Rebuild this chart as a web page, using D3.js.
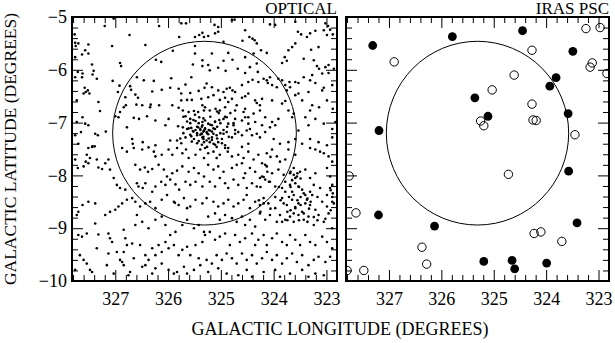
<!DOCTYPE html>
<html>
<head>
<meta charset="utf-8">
<script src="https://cdn.jsdelivr.net/npm/d3@7"></script>
<style>
  body { margin: 0; background: #fff; }
  text { font-family: "Liberation Serif", "DejaVu Serif", serif; fill: #000; }
</style>
</head>
<body>
<svg id="chart" width="615" height="343"></svg>
<script>
// axis ranges (degrees)
const lonDomain = [327.82, 322.8];
const latDomain = [-10, -5];
const lonMajor = [327, 326, 325, 324, 323];
const latMajor = [-10, -9, -8, -7, -6, -5];

// search circle
const circleLon = 325.31, circleLat = -7.2, circleRadius = 1.74;

// optical sources [lon, lat]
const opticalUpperLeft = [
[327.20,-5.17],[327.03,-5.03],[326.17,-5.17],[325.75,-5.12],[325.66,-5.12],[327.77,-5.33],[326.73,-5.34],[325.79,-5.38],[325.49,-5.38],[325.41,-5.34],
[325.35,-5.30],[325.32,-5.38],[327.76,-5.49],[327.75,-5.55],[327.70,-5.50],[327.51,-5.52],[327.57,-5.63],[327.06,-5.55],[326.43,-5.53],[325.91,-5.64],
[325.49,-5.55],[327.63,-5.71],[327.51,-5.69],[327.76,-5.76],[326.23,-5.81],[326.13,-5.85],[325.49,-5.69],[325.35,-5.82],[327.44,-5.90],[326.91,-5.87],
[326.89,-5.93],[325.35,-5.93],[325.53,-5.90],[327.71,-6.04],[327.62,-6.07],[327.63,-6.14],[327.41,-6.02],[327.43,-6.09],[327.76,-6.14],[327.35,-6.17],
[326.59,-6.14],[326.46,-6.20],[326.27,-6.21],[325.94,-6.16],[325.67,-6.28],[325.56,-6.14],[327.58,-6.34],[327.52,-6.39],[327.49,-6.45],[327.56,-6.42],
[327.60,-6.45],[327.05,-6.21],[326.92,-6.30],[326.72,-6.31],[326.70,-6.38],[326.62,-6.47],[326.30,-6.41],[326.12,-6.38],[325.96,-6.34],[325.80,-6.36],
[325.75,-6.45],[325.58,-6.44],[325.42,-6.40],[325.31,-6.34],[327.73,-6.58],[327.32,-6.61],[326.81,-6.52],[326.57,-6.53],[326.95,-6.42],[326.80,-6.67],
[326.84,-6.71],[326.60,-6.66],[326.49,-6.67],[326.33,-6.66],[326.34,-6.71],[326.17,-6.67],[325.92,-6.67],[325.75,-6.58],[325.64,-6.57],[325.55,-6.57],
[325.37,-6.55],[325.35,-6.67],[327.29,-6.78],[327.62,-6.90],[326.91,-6.80],[325.80,-6.72],[325.72,-6.77],[325.61,-6.80],[325.51,-6.78],[325.43,-6.80],
[325.32,-6.77],[327.73,-6.99],[327.57,-7.02],[327.51,-7.05],[327.00,-6.88],[326.94,-6.90],[326.65,-6.91],[326.55,-6.93],[326.40,-6.88],[326.24,-6.96],
[325.99,-6.93],[325.67,-6.88],[325.58,-6.93],[325.48,-6.97],[325.41,-6.90],[325.35,-6.99],[327.65,-7.18],[327.76,-7.24],[327.38,-7.21],[327.33,-7.24],
[327.18,-7.17],[326.78,-7.09],[326.05,-7.05],[325.81,-7.07],[325.72,-7.09],[325.64,-7.12],[325.56,-7.10],[325.53,-7.16],[325.48,-7.14],[325.43,-7.09],
[325.39,-7.12],[325.35,-7.05],[325.32,-7.15],[325.37,-7.21],[327.70,-7.40],[327.44,-7.46],[327.39,-7.45],[326.68,-7.31],[326.67,-7.40],[326.48,-7.37],
[326.24,-7.43],[325.96,-7.34],[325.83,-7.34],[325.75,-7.39],[325.67,-7.28],[325.56,-7.26],[325.51,-7.31],[325.45,-7.24],[325.42,-7.35],[325.35,-7.28],
[325.32,-7.37]
];

const opticalUpperRight = [
[325.12,-5.15],[325.05,-5.19],[324.79,-5.06],[324.74,-5.05],[324.07,-5.14],[323.97,-5.15],[323.59,-5.09],[323.02,-5.12],[322.97,-5.17],[322.93,-5.24],
[325.11,-5.31],[325.05,-5.28],[324.54,-5.25],[324.46,-5.38],[324.40,-5.41],[324.36,-5.44],[324.32,-5.50],[323.54,-5.28],[323.48,-5.33],[323.37,-5.38],
[323.31,-5.31],[323.21,-5.26],[323.05,-5.25],[322.99,-5.34],[325.24,-5.36],[324.95,-5.47],[324.59,-5.45],[324.24,-5.63],[324.13,-5.68],[323.72,-5.63],
[323.65,-5.57],[323.59,-5.50],[323.29,-5.62],[323.15,-5.57],[322.88,-5.33],[325.17,-5.69],[324.86,-5.68],[324.78,-5.81],[324.95,-5.83],[324.54,-5.76],
[324.38,-5.69],[324.32,-5.88],[323.79,-5.76],[323.75,-5.83],[323.84,-5.87],[323.43,-5.79],[323.24,-5.82],[323.14,-5.98],[323.18,-5.93],[323.02,-5.95],
[322.96,-5.91],[325.24,-5.91],[325.21,-6.01],[325.05,-5.96],[324.91,-6.02],[324.68,-5.98],[324.54,-6.06],[324.45,-5.95],[324.30,-6.04],[324.19,-6.17],
[324.13,-6.20],[324.11,-6.25],[324.07,-6.14],[324.03,-6.29],[323.91,-6.17],[323.84,-6.20],[323.78,-6.29],[323.70,-6.23],[323.59,-6.23],[323.53,-6.25],
[323.43,-6.14],[323.31,-6.20],[323.27,-6.10],[323.21,-6.25],[323.08,-6.07],[322.96,-6.06],[322.86,-5.98],[325.27,-6.26],[325.17,-6.33],[325.05,-6.39],
[324.95,-6.42],[324.89,-6.36],[324.83,-6.34],[324.78,-6.39],[324.73,-6.42],[324.60,-6.29],[324.48,-6.23],[324.40,-6.19],[324.29,-6.23],[323.94,-6.33],
[323.75,-6.39],[323.69,-6.33],[323.59,-6.48],[323.53,-6.45],[323.34,-6.42],[323.08,-6.39],[323.05,-6.34],[322.89,-6.29],[325.24,-6.52],[325.14,-6.48],
[325.02,-6.57],[324.92,-6.53],[324.86,-6.61],[324.79,-6.55],[324.60,-6.53],[324.54,-6.50],[324.48,-6.45],[324.35,-6.58],[324.32,-6.63],[324.26,-6.67],
[324.22,-6.55],[324.03,-6.58],[323.84,-6.64],[323.78,-6.59],[323.46,-6.58],[323.27,-6.67],[323.14,-6.71],[322.99,-6.58],[322.88,-6.74],[325.30,-6.71],
[325.21,-6.77],[325.10,-6.74],[325.02,-6.77],[324.92,-6.71],[324.73,-6.77],[324.70,-6.67],[324.57,-6.80],[324.54,-6.74],[324.48,-6.90],[324.38,-6.83],
[324.26,-6.77],[324.16,-6.90],[324.03,-6.99],[323.97,-7.05],[323.91,-6.93],[323.72,-6.77],[323.62,-6.83],[323.65,-6.90],[323.40,-6.90],[323.31,-6.77],
[323.21,-6.93],[323.05,-7.02],[322.83,-6.99],[325.30,-6.96],[325.24,-7.02],[325.17,-7.05],[325.11,-6.99],[325.03,-6.95],[324.95,-6.93],[324.89,-6.90],
[324.86,-7.02],[324.76,-7.05],[324.73,-6.93],[324.60,-6.96],[324.54,-6.90],[324.48,-7.02],[324.35,-6.99],[324.22,-7.05],[324.07,-7.09],[323.53,-7.15],
[323.34,-7.05],[322.89,-7.12],[325.30,-7.12],[325.27,-7.18],[325.24,-7.22],[325.21,-7.15],[325.17,-7.28],[325.14,-7.21],[325.11,-7.12],[325.08,-7.24],
[325.36,-7.21],[325.33,-7.31],[325.27,-7.34],[325.21,-7.37],[325.14,-7.40],[325.05,-7.37],[324.98,-7.31],[324.95,-7.21],[324.89,-7.18],[324.79,-7.28],
[324.73,-7.21],[324.67,-7.18],[324.60,-7.24],[324.51,-7.15],[324.45,-7.12],[324.41,-7.24],[324.32,-7.21],[324.26,-7.28],[324.16,-7.18],[324.00,-7.31],
[323.88,-7.40],[323.72,-7.37],[323.59,-7.31],[323.46,-7.40],[323.31,-7.31],[323.15,-7.37],[322.99,-7.43],[322.89,-7.28],[325.08,-7.46],[324.92,-7.43],
[324.86,-7.48],[324.60,-7.46],[324.48,-7.40]
];

const opticalCore = [
[325.71,-6.89],[325.64,-6.98],[325.58,-7.01],[325.52,-6.95],[325.49,-6.85],[325.45,-7.08],[325.42,-7.01],[325.39,-7.14],[325.36,-7.08],[325.33,-7.17],
[325.30,-7.11],[325.26,-7.20],[325.23,-7.14],[325.20,-7.04],[325.17,-7.17],[325.14,-7.11],[325.11,-6.98],[325.07,-7.08],[325.04,-6.82],[325.01,-7.01],
[325.39,-7.23],[325.33,-7.27],[325.45,-7.20],[325.52,-7.17],[325.58,-7.23],[325.23,-7.30],[325.17,-7.33],[325.07,-7.30],[325.01,-7.20],[324.95,-7.14],
[324.88,-7.08],[325.61,-7.11],[325.55,-7.36],[325.45,-7.39],[325.36,-7.42],[325.26,-7.46],[325.11,-7.42],[324.98,-7.39],[325.71,-7.20],[325.77,-7.30],
[324.85,-7.27],[325.07,-6.79],[325.20,-6.89],[325.33,-6.92],[324.92,-6.89],[324.82,-6.82],[324.76,-7.01],[324.73,-7.14]
];

const opticalLowerLeft = [
[327.51,-7.48],[327.43,-7.45],[327.54,-7.61],[327.48,-7.67],[327.56,-7.74],[327.51,-7.77],[327.60,-7.83],[327.76,-7.70],[327.71,-7.86],[327.35,-7.70],
[327.32,-7.85],[327.25,-7.88],[327.19,-7.77],[327.13,-7.70],[327.10,-7.89],[326.87,-7.48],[326.78,-7.55],[326.65,-7.48],[326.49,-7.51],[326.37,-7.47],
[326.27,-7.55],[326.24,-7.64],[326.12,-7.61],[325.99,-7.51],[325.92,-7.61],[325.83,-7.48],[325.73,-7.58],[325.66,-7.51],[325.61,-7.67],[325.48,-7.61],
[325.39,-7.51],[325.32,-7.67],[326.62,-7.80],[326.53,-7.89],[326.44,-7.85],[326.38,-7.93],[326.30,-7.88],[326.18,-7.80],[326.08,-7.89],[326.02,-8.02],
[325.92,-7.96],[325.83,-7.91],[325.73,-7.83],[325.61,-7.93],[325.51,-7.86],[325.42,-7.96],[325.32,-8.02],[327.03,-8.05],[326.97,-8.18],[326.91,-8.24],
[326.81,-8.27],[326.59,-8.15],[326.56,-8.21],[326.48,-8.24],[326.43,-8.15],[326.30,-8.31],[326.24,-8.21],[326.13,-8.12],[326.05,-8.18],[325.96,-8.08],
[325.86,-8.17],[325.79,-8.27],[325.67,-8.12],[325.58,-8.18],[325.48,-8.12],[325.35,-8.21],[327.38,-8.53],[327.51,-8.50],[327.62,-8.56],[327.70,-8.69],
[327.73,-8.75],[327.19,-8.75],[327.10,-8.69],[327.00,-8.65],[326.94,-8.59],[326.87,-8.53],[326.78,-8.46],[326.68,-8.43],[326.62,-8.50],[326.53,-8.59],
[326.43,-8.53],[326.34,-8.50],[326.24,-8.62],[326.12,-8.46],[326.02,-8.37],[325.89,-8.50],[325.87,-8.52],[325.80,-8.56],[325.70,-8.43],[325.64,-8.62],
[325.58,-8.59],[325.48,-8.46],[325.35,-8.53],[327.38,-8.91],[327.70,-9.13],[327.63,-9.16],[327.54,-9.10],[327.32,-9.12],[327.13,-9.10],[327.10,-9.19],
[327.06,-9.26],[326.84,-9.03],[326.81,-9.19],[326.59,-8.75],[326.62,-8.94],[326.49,-8.88],[326.37,-9.00],[326.24,-8.84],[326.12,-8.78],[326.05,-8.94],
[325.96,-9.13],[325.86,-9.07],[325.73,-8.94],[325.64,-8.84],[325.51,-9.00],[325.42,-8.94],[325.32,-9.07],[327.67,-9.51],[327.60,-9.60],[327.54,-9.67],
[327.48,-9.79],[327.35,-9.38],[327.13,-9.48],[326.97,-9.45],[326.84,-9.45],[326.78,-9.32],[326.68,-9.29],[326.87,-9.64],[326.84,-9.70],[326.91,-9.60],
[326.65,-9.57],[326.53,-9.32],[326.43,-9.51],[326.37,-9.60],[326.30,-9.38],[326.24,-9.51],[326.18,-9.32],[326.12,-9.45],[326.05,-9.26],[325.99,-9.38],
[325.89,-9.32],[325.80,-9.51],[325.73,-9.41],[325.64,-9.35],[325.58,-9.51],[325.48,-9.32],[325.35,-9.26],[325.42,-9.57],[327.76,-9.79],[327.44,-9.83],
[327.16,-9.70],[327.03,-9.86],[326.75,-9.89],[326.72,-9.83],[326.49,-9.73],[326.43,-9.70],[326.30,-9.86],[326.24,-9.76],[326.12,-9.67],[325.99,-9.79],
[325.89,-9.86],[325.83,-9.83],[325.70,-9.73],[325.64,-9.86],[325.51,-9.79],[325.39,-9.70]
];

const opticalLowerRight = [
[325.30,-7.48],[325.24,-7.58],[325.14,-7.55],[325.08,-7.67],[325.02,-7.61],[324.92,-7.48],[324.87,-7.55],[324.79,-7.64],[324.67,-7.61],[324.57,-7.67],
[324.48,-7.55],[324.38,-7.70],[324.29,-7.61],[324.22,-7.77],[324.13,-7.58],[324.03,-7.51],[323.94,-7.64],[323.88,-7.74],[323.78,-7.70],[323.72,-7.51],
[323.59,-7.61],[323.31,-7.48],[323.21,-7.51],[323.12,-7.55],[323.05,-7.58],[322.96,-7.64],[322.89,-7.74],[325.24,-7.80],[325.14,-7.89],[325.05,-7.83],
[324.95,-7.93],[324.79,-7.86],[324.70,-7.80],[324.60,-7.77],[324.54,-7.96],[324.45,-7.86],[324.35,-7.93],[324.22,-8.02],[324.13,-7.83],[324.03,-7.96],
[323.91,-7.89],[323.81,-7.99],[323.69,-7.96],[323.62,-7.86],[323.56,-8.02],[323.50,-7.93],[323.40,-7.89],[323.31,-8.05],[323.21,-7.96],[322.99,-7.86],
[322.93,-8.02],[325.21,-8.12],[325.11,-8.21],[325.02,-8.05],[324.92,-8.15],[324.86,-8.24],[324.76,-8.08],[324.67,-8.18],[324.57,-8.05],[324.51,-8.24],
[324.41,-8.15],[324.32,-8.21],[324.26,-8.05],[324.16,-8.08],[324.07,-8.12],[323.97,-8.21],[323.84,-8.24],[323.78,-8.12],[323.69,-8.18],[323.65,-8.31],
[323.59,-8.05],[323.53,-8.21],[323.46,-8.27],[323.40,-8.37],[323.31,-8.31],[323.24,-8.18],[323.12,-8.24],[322.93,-8.24],[322.89,-8.18],[322.88,-8.34],
[322.99,-8.37],[325.27,-8.43],[325.14,-8.50],[325.05,-8.59],[324.95,-8.53],[324.86,-8.46],[324.76,-8.59],[324.67,-8.53],[324.57,-8.46],[324.51,-8.37],
[324.45,-8.62],[324.35,-8.50],[324.26,-8.56],[324.19,-8.43],[324.10,-8.53],[323.97,-8.62],[323.84,-8.43],[323.75,-8.56],[323.65,-8.46],[323.59,-8.62],
[323.53,-8.53],[323.46,-8.69],[323.37,-8.46],[323.31,-8.56],[323.21,-8.65],[323.08,-8.50],[322.99,-8.59],[322.89,-8.50],[325.24,-8.78],[325.11,-8.72],
[325.02,-8.84],[324.92,-8.75],[324.79,-8.81],[324.70,-8.88],[324.60,-8.78],[324.54,-8.94],[324.45,-8.84],[324.35,-8.97],[324.26,-8.72],[324.16,-8.84],
[324.07,-8.75],[323.94,-8.88],[323.88,-8.75],[323.78,-8.84],[323.69,-8.78],[323.62,-8.88],[323.53,-8.75],[323.43,-8.84],[323.34,-8.78],[323.24,-8.94],
[323.15,-8.75],[323.05,-8.88],[322.96,-8.72],[322.89,-9.00],[325.30,-9.13],[325.21,-9.07],[325.11,-9.22],[325.02,-9.16],[324.92,-9.10],[324.83,-9.32],
[324.73,-9.13],[324.64,-9.26],[324.54,-9.19],[324.41,-9.10],[324.35,-9.32],[324.29,-9.22],[324.19,-9.13],[324.13,-9.32],[324.03,-9.19],[323.94,-9.10],
[323.84,-9.26],[323.75,-9.32],[323.69,-9.13],[323.59,-9.22],[323.50,-9.32],[323.40,-9.13],[323.31,-9.26],[323.21,-9.32],[323.08,-9.16],[322.99,-9.26],
[322.89,-9.38],[325.27,-9.60],[325.17,-9.67],[325.08,-9.51],[324.98,-9.60],[324.89,-9.48],[324.79,-9.57],[324.70,-9.67],[324.60,-9.48],[324.51,-9.60],
[324.41,-9.51],[324.32,-9.67],[324.22,-9.57],[324.13,-9.45],[324.03,-9.60],[323.94,-9.51],[323.84,-9.67],[323.75,-9.57],[323.65,-9.48],[323.56,-9.64],
[323.46,-9.51],[323.34,-9.70],[323.24,-9.60],[323.15,-9.54],[323.02,-9.64],[322.93,-9.54],[325.24,-9.83],[325.05,-9.76],[324.89,-9.86],[324.67,-9.89],
[324.51,-9.79],[324.41,-9.92],[324.19,-9.83],[323.97,-9.79],[323.88,-9.92],[323.69,-9.86],[323.46,-9.79],[323.34,-9.92],[323.21,-9.86],[323.05,-9.89]
];

const opticalClump = [
[323.68,-7.93],[323.62,-7.99],[323.55,-7.96],[323.65,-8.09],[323.59,-8.15],[323.49,-8.06],[323.52,-8.22],[323.68,-8.22],[323.78,-8.31],[323.71,-8.41],
[323.62,-8.37],[323.55,-8.47],[323.49,-8.41],[323.43,-8.34],[323.36,-8.44],[323.30,-8.50],[323.40,-8.53],[323.49,-8.56],[323.59,-8.60],[323.68,-8.66],
[323.74,-8.69],[323.81,-8.53],[323.87,-8.47],[323.33,-8.63],[323.27,-8.37],[323.43,-8.72],[323.62,-8.72],[323.17,-8.41],[323.24,-8.79],[323.52,-8.85],
[323.74,-8.85],[323.84,-8.88],[323.36,-8.88],[323.17,-8.85],[323.02,-8.82],[322.92,-8.28],[322.89,-8.41],[322.86,-8.53],[322.92,-8.66],[324.16,-7.80],
[324.12,-7.93],[324.19,-8.03],[324.09,-8.12],[324.06,-7.65],[324.25,-8.22],[324.28,-8.47],[324.19,-8.53],[324.06,-8.63],[324.25,-8.69],[323.97,-8.41],
[323.90,-8.22]
];

const opticalDots = [].concat(opticalUpperLeft, opticalUpperRight, opticalCore,
  opticalLowerLeft, opticalLowerRight, opticalClump);

// IRAS point sources [lon, lat]
const irasFilled = [
[327.31,-5.54],[325.79,-5.37],[325.36,-6.53],[327.19,-7.15],[324.45,-5.26],[323.49,-5.65],[323.81,-6.15],[323.93,-6.31],[325.11,-6.88],
[323.58,-6.83],[327.20,-8.75],[326.13,-8.96],[323.57,-7.92],[323.41,-8.90],[325.19,-9.63],[324.65,-9.61],[324.60,-9.77],[323.99,-9.66]
];
const irasOpen = [
[326.90,-5.85],[323.24,-5.22],[322.97,-5.20],[324.27,-5.63],[323.12,-5.87],[323.16,-5.95],[322.84,-6.07],[324.61,-6.10],[325.03,-6.38],
[324.27,-6.65],[325.25,-6.97],[325.19,-7.06],[324.25,-6.95],[324.19,-6.96],[323.45,-7.23],[327.76,-8.01],[327.63,-8.71],[326.37,-9.36],
[326.28,-9.68],[327.48,-9.80],[327.80,-9.80],[324.72,-7.98],[324.23,-9.10],[324.10,-9.07],[323.70,-9.25]
];

const svg = d3.select("#chart");
const plotTop = 17, plotBottom = 281;

const lonMinor = d3.range(0, 26).map(i => +(327.8 - i * 0.2).toFixed(1)).filter(v => !Number.isInteger(v));
const latMinor = d3.range(0, 26).map(i => +(-10 + i * 0.2).toFixed(1)).filter(v => !Number.isInteger(v));

const panels = [
  {title: "OPTICAL", x0: 72, x1: 337, yLabels: true},
  {title: "IRAS PSC", x0: 346, x1: 609, yLabels: false}
];

panels.forEach((p, i) => {
  const x = d3.scaleLinear().domain(lonDomain).range([p.x0, p.x1]);
  const y = d3.scaleLinear().domain(latDomain).range([plotBottom, plotTop]);

  svg.append("clipPath").attr("id", "clip" + i)
    .append("rect")
    .attr("x", p.x0).attr("y", plotTop)
    .attr("width", p.x1 - p.x0).attr("height", plotBottom - plotTop);

  const inner = svg.append("g").attr("clip-path", `url(#clip${i})`);

  inner.append("ellipse")
    .attr("cx", x(circleLon)).attr("cy", y(circleLat))
    .attr("rx", Math.abs(x(circleLon + circleRadius) - x(circleLon)))
    .attr("ry", Math.abs(y(circleLat + circleRadius) - y(circleLat)))
    .attr("fill", "none").attr("stroke", "#000").attr("stroke-width", 1);

  if (i === 0) {
    inner.selectAll("circle.dot").data(opticalDots).join("circle")
      .attr("class", "dot")
      .attr("cx", d => x(d[0])).attr("cy", d => y(d[1]))
      .attr("r", 1.3).attr("fill", "#000");
  } else {
    inner.selectAll("circle.open").data(irasOpen).join("circle")
      .attr("class", "open")
      .attr("cx", d => x(d[0])).attr("cy", d => y(d[1]))
      .attr("r", 4.2).attr("fill", "none").attr("stroke", "#000").attr("stroke-width", 1);
    inner.selectAll("circle.filled").data(irasFilled).join("circle")
      .attr("class", "filled")
      .attr("cx", d => x(d[0])).attr("cy", d => y(d[1]))
      .attr("r", 4.4).attr("fill", "#000");
  }

  // ticks on all four sides, pointing inward
  const sides = [
    [d3.axisBottom(x), `translate(0,${plotBottom})`, lonMajor, lonMinor, true, 11],
    [d3.axisTop(x), `translate(0,${plotTop})`, lonMajor, lonMinor, false, 0],
    [d3.axisLeft(y), `translate(${p.x0},0)`, latMajor, latMinor, p.yLabels, 5],
    [d3.axisRight(y), `translate(${p.x1},0)`, latMajor, latMinor, false, 0]
  ];
  sides.forEach(([axis, tr, major, minor, labels, pad]) => {
    const gMinor = svg.append("g").attr("transform", tr)
      .call(axis.tickValues(minor).tickSize(-6).tickFormat(""));
    gMinor.select(".domain").remove();
    const gMajor = svg.append("g").attr("transform", tr)
      .call(axis.tickValues(major).tickSize(-11).tickPadding(pad)
        .tickFormat(labels ? d3.format("d") : ""));
    gMajor.select(".domain").remove();
    gMajor.selectAll("text").style("font-family", '"Liberation Serif", serif').attr("font-size", 18);
  });

  svg.append("rect")
    .attr("x", p.x0).attr("y", plotTop)
    .attr("width", p.x1 - p.x0).attr("height", plotBottom - plotTop)
    .attr("fill", "none").attr("stroke", "#000").attr("stroke-width", 2);

  svg.append("text")
    .attr("x", p.x1).attr("y", plotTop - 3)
    .attr("text-anchor", "end").attr("font-size", 17)
    .text(p.title);
});

svg.append("text")
  .attr("x", 340).attr("y", 335)
  .attr("text-anchor", "middle").attr("font-size", 18)
  .text("GALACTIC LONGITUDE (DEGREES)");

svg.append("text")
  .attr("transform", "translate(16,149) rotate(-90)")
  .attr("text-anchor", "middle").attr("font-size", 17.5)
  .text("GALACTIC LATITUDE (DEGREES)");
</script>
</body>
</html>
